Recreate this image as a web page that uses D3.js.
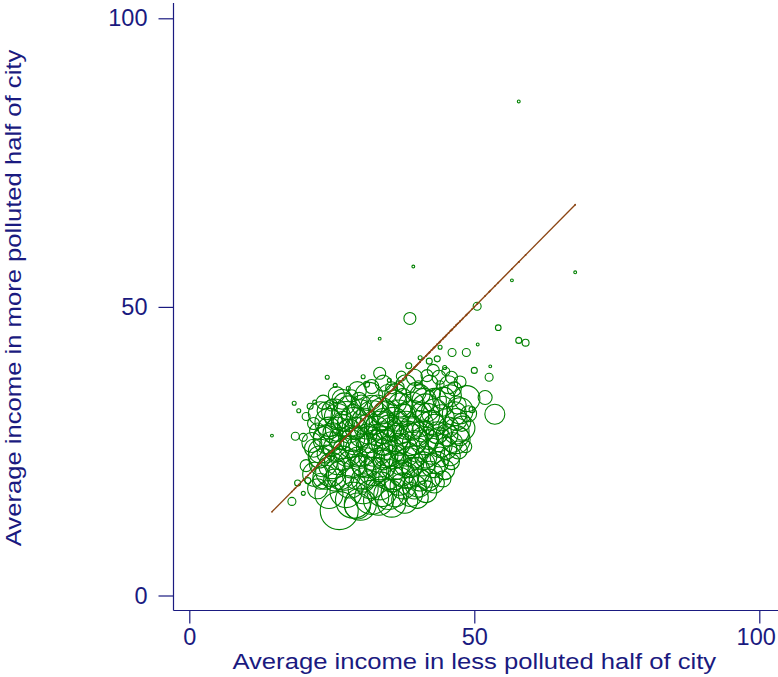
<!DOCTYPE html>
<html>
<head>
<meta charset="utf-8">
<script src="https://cdn.jsdelivr.net/npm/d3@7"></script>
<style>
  html, body { margin: 0; padding: 0; background: #fff; }
</style>
</head>
<body>
<div id="chart"></div>
<script>
let w = 778;
let h = 677;

let axisColor = "#1a1a80";
let markerColor = "#008000";
let lineColor = "#8b4513";

let xTicks = [0, 50, 100];
let yTicks = [0, 50, 100];

// cities far from the main cloud: [less polluted income, more polluted income, population]
let sparseCities = [
  [57.8, 85.6, 2], [39.3, 57.0, 2], [67.7, 56.0, 2], [56.6, 54.6, 2],
  [50.5, 50.1, 16], [38.7, 48.0, 36], [54.2, 46.4, 8], [33.4, 44.5, 2],
  [57.8, 44.2, 9], [59.0, 43.8, 12], [50.6, 43.5, 2], [52.8, 39.7, 2],
  [52.6, 37.8, 16], [51.9, 34.3, 49], [53.6, 31.4, 100], [49.6, 32.2, 9],
  [44.0, 43.0, 4], [46.1, 42.1, 16], [48.6, 42.1, 16], [43.5, 41.0, 9],
  [45.0, 38.8, 16], [47.5, 37.0, 36], [50.0, 39.0, 9], [14.5, 27.7, 2],
  [18.4, 33.3, 4], [21.2, 32.8, 9], [19.2, 32.0, 4]
];

// the main cloud of cities
let denseCities = [
  [24.2, 37.8, 4], [25.6, 36.4, 4], [27.9, 35.9, 4], [30.5, 37.9, 4], [31.1, 36.6, 9],
  [33.4, 38.5, 36], [35.1, 37.3, 4], [36.8, 36.2, 25], [41.7, 38.1, 36], [40.2, 36.5, 16],
  [44.0, 36.5, 16], [43.2, 35.0, 25], [46.0, 37.8, 36], [44.8, 39.5, 4], [38.5, 39.8, 9],
  [42.1, 40.6, 9], [40.5, 41.2, 4],
  [22.0, 33.5, 4], [25.0, 33.0, 36], [26.8, 34.0, 100], [28.0, 32.5, 144], [29.8, 33.8, 64],
  [31.5, 34.5, 196], [33.0, 33.0, 100], [34.8, 35.0, 81], [36.0, 33.5, 144], [37.5, 34.5, 64],
  [39.0, 33.0, 169], [40.5, 34.8, 100], [41.5, 32.5, 196], [43.0, 33.8, 144], [44.5, 32.8, 100],
  [45.8, 34.6, 121], [47.0, 33.0, 81], [48.7, 34.1, 169], [46.5, 35.8, 49], [42.2, 36.8, 64],
  [38.0, 36.5, 100], [35.5, 36.0, 36], [32.0, 36.2, 49], [29.5, 35.5, 81],
  [20.5, 31.0, 16], [21.8, 29.8, 36], [23.0, 31.5, 144], [24.5, 30.0, 196], [25.5, 31.8, 169],
  [26.8, 29.5, 121], [27.5, 31.0, 225], [28.8, 29.8, 256], [30.0, 31.5, 196], [31.0, 29.2, 144],
  [32.2, 30.8, 289], [33.5, 29.5, 196], [34.5, 31.5, 169], [35.8, 30.0, 225], [36.8, 31.8, 144],
  [38.0, 29.5, 196], [39.2, 31.0, 256], [40.5, 29.8, 169], [41.8, 31.2, 144], [43.0, 29.5, 121],
  [44.2, 30.8, 169], [45.5, 29.2, 100], [46.5, 31.5, 144], [47.8, 30.0, 81], [49.0, 31.5, 64],
  [22.5, 28.5, 64], [25.2, 28.2, 100], [28.0, 28.5, 144], [31.2, 28.0, 100], [34.0, 28.2, 121],
  [37.0, 28.5, 169], [40.0, 28.0, 144], [43.5, 28.2, 121], [46.8, 28.5, 169], [18.6, 27.6, 16],
  [20.0, 27.4, 16],
  [21.5, 26.5, 100], [23.0, 25.0, 144], [24.2, 27.0, 196], [25.8, 25.5, 169], [26.5, 27.2, 121],
  [27.8, 25.0, 225], [29.0, 26.8, 196], [30.2, 25.2, 256], [31.5, 27.0, 169], [32.5, 25.5, 324],
  [33.8, 26.8, 196], [35.0, 25.0, 225], [36.2, 27.2, 169], [37.5, 25.5, 196], [38.8, 27.0, 256],
  [40.0, 25.2, 144], [41.2, 26.8, 196], [42.5, 25.0, 169], [43.8, 27.0, 144], [45.0, 25.5, 121],
  [46.2, 26.5, 100], [47.5, 27.5, 81], [48.5, 25.8, 36], [29.5, 24.0, 100], [34.5, 24.2, 144],
  [39.5, 24.0, 121], [24.0, 24.5, 81], [44.0, 24.0, 100],
  [20.5, 22.5, 36], [22.0, 21.0, 144], [23.5, 23.0, 196], [24.8, 21.5, 225], [26.0, 23.2, 169],
  [27.2, 21.0, 256], [28.5, 22.8, 196], [29.8, 21.2, 289], [31.0, 23.0, 225], [32.2, 21.5, 196],
  [33.5, 22.8, 256], [34.8, 21.0, 225], [36.0, 22.5, 196], [37.2, 21.2, 169], [38.5, 23.0, 225],
  [39.8, 21.5, 196], [41.0, 22.8, 144], [42.2, 21.0, 169], [43.5, 23.0, 121], [44.8, 21.8, 100],
  [46.0, 23.2, 64], [25.5, 20.0, 121], [30.5, 20.0, 144], [35.5, 20.2, 169], [40.5, 20.0, 121],
  [19.0, 19.5, 9], [20.8, 19.9, 9], [20.0, 17.7, 4], [18.0, 16.3, 16], [22.5, 18.5, 100],
  [24.5, 17.5, 196], [26.3, 14.7, 361], [27.5, 18.0, 256], [28.8, 16.5, 324], [30.5, 18.5, 225],
  [32.0, 17.0, 289], [33.5, 19.0, 196], [35.0, 17.5, 225], [36.1, 17.8, 196], [37.5, 19.0, 169],
  [38.8, 17.5, 144], [40.2, 19.5, 196], [41.5, 18.0, 121], [43.0, 19.5, 100], [44.5, 20.2, 64],
  [29.5, 15.5, 169], [23.0, 19.8, 64],
  [30.0, 27.5, 100], [31.8, 26.0, 144], [33.0, 27.8, 121], [34.2, 26.5, 169], [35.5, 28.8, 144],
  [36.8, 26.2, 121], [38.2, 28.0, 169], [39.5, 26.5, 144], [41.0, 28.5, 121], [42.0, 27.0, 100],
  [29.2, 29.0, 121], [30.8, 30.2, 169], [32.8, 29.0, 144], [34.0, 30.5, 121], [35.0, 29.0, 169],
  [36.5, 30.2, 100], [37.8, 31.2, 121], [39.0, 29.0, 144], [40.8, 31.8, 100], [42.5, 30.0, 144],
  [30.5, 22.5, 121], [32.0, 24.0, 169], [33.2, 21.8, 144], [34.0, 23.5, 100], [35.8, 24.0, 144],
  [37.0, 22.8, 121], [38.2, 24.5, 144], [39.0, 22.2, 100], [41.5, 24.0, 121], [42.8, 22.5, 144],
  [27.0, 23.8, 144], [28.2, 25.8, 121], [26.0, 28.8, 144], [27.0, 30.2, 100], [28.5, 27.2, 169],
  [24.5, 29.0, 121], [25.0, 26.3, 144], [23.5, 27.5, 100], [22.8, 24.0, 121], [21.8, 25.5, 81],
  [44.0, 26.0, 144], [45.2, 27.8, 121], [45.8, 24.2, 100], [46.8, 30.5, 121], [47.2, 25.2, 81],
  [43.0, 31.8, 169], [44.6, 34.2, 121], [41.2, 33.8, 144], [39.8, 35.2, 100], [37.0, 33.0, 144],
  [33.8, 32.0, 169], [32.0, 32.8, 121], [30.2, 33.0, 100], [28.8, 31.0, 144], [27.2, 33.2, 121],
  [26.0, 31.0, 169], [24.0, 32.0, 81], [25.8, 34.8, 64], [23.5, 33.5, 49], [28.5, 34.6, 36],
  [31.8, 19.2, 196], [33.8, 18.0, 225], [36.8, 19.8, 196], [38.0, 20.8, 169], [39.5, 18.8, 144],
  [42.0, 20.0, 121], [28.2, 19.5, 225], [26.5, 20.8, 196], [25.0, 22.5, 169], [23.8, 20.5, 144],
  [47.5, 32.0, 169], [48.0, 29.0, 144], [46.8, 27.0, 196], [45.5, 36.5, 81], [43.8, 37.8, 49],
  [42.8, 39.0, 36], [39.5, 37.8, 64], [37.2, 38.0, 25], [34.0, 36.8, 64], [36.2, 34.8, 121],
  [33.2, 16.5, 225], [30.0, 15.8, 256], [35.5, 16.0, 196], [37.8, 16.5, 169], [40.0, 17.0, 121]
];

let cities = sparseCities.concat(denseCities);

let svg = d3.select("#chart")
  .append("svg")
    .attr("width", w)
    .attr("height", h)
    .style("font-family", "Liberation Sans, Arial, sans-serif");

let xScale = d3.scaleLinear().domain([0, 100]).range([189.3, 759.3]);
let yScale = d3.scaleLinear().domain([0, 100]).range([595.5, 18.3]);
let rScale = d3.scaleSqrt().domain([0, 400]).range([0, 20]);

// circles, weighted by population
svg.append("g")
  .selectAll("circle")
  .data(cities)
  .enter()
  .append("circle")
    .attr("cx", d => xScale(d[0]))
    .attr("cy", d => yScale(d[1]))
    .attr("r", d => Math.max(1.3, rScale(d[2])))
    .attr("fill", "none")
    .attr("stroke", markerColor)
    .attr("stroke-width", 1.1);

// 45 degree line over the range of the data
let xExtent = d3.extent(cities, d => d[0]);
svg.append("path")
  .datum(xExtent)
  .attr("d", d3.line().x(d => xScale(d)).y(d => yScale(d)))
  .attr("stroke", lineColor)
  .attr("stroke-width", 1.3)
  .attr("fill", "none");

svg.append("g")
  .selectAll("circle")
  .data(cities)
  .enter()
  .append("circle")
    .attr("cx", d => xScale(d[0]))
    .attr("cy", d => yScale(d[0]))
    .attr("r", 0.9)
    .attr("fill", lineColor);

// axes
let yAxisGroup = svg.append("g")
  .attr("transform", "translate(173.5, 0)")
  .call(d3.axisLeft(yScale).tickValues(yTicks).tickSize(15).tickPadding(11).tickSizeOuter(0));

let xAxisGroup = svg.append("g")
  .attr("transform", "translate(0, 610.5)")
  .call(d3.axisBottom(xScale).tickValues(xTicks).tickSize(13).tickPadding(5).tickSizeOuter(0));

svg.selectAll(".domain").remove();
svg.selectAll(".tick line").attr("stroke", axisColor).attr("stroke-width", 1.2);
svg.selectAll(".tick text")
  .attr("fill", axisColor)
  .attr("font-size", "23.5px")
  .attr("font-family", "Liberation Sans, Arial, sans-serif");

// last x label sits against the right edge
xAxisGroup.selectAll(".tick text")
  .filter(d => d === xTicks[xTicks.length - 1])
  .attr("text-anchor", "end")
  .attr("x", 16);

svg.append("line")
  .attr("x1", 173.5).attr("x2", 173.5)
  .attr("y1", 3).attr("y2", 610.5)
  .attr("stroke", axisColor).attr("stroke-width", 1.2);

svg.append("line")
  .attr("x1", 173.5).attr("x2", w)
  .attr("y1", 610.5).attr("y2", 610.5)
  .attr("stroke", axisColor).attr("stroke-width", 1.2);

// titles (the original font is a little wider than Arial)
svg.append("text")
  .text("Average income in less polluted half of city")
  .attr("transform", "translate(" + xScale(50) + ", 669) scale(1.165, 1)")
  .attr("text-anchor", "middle")
  .attr("fill", axisColor)
  .attr("font-size", "22px");

svg.append("text")
  .text("Average income in more polluted half of city")
  .attr("transform", "translate(21, 298) rotate(-90) scale(1.165, 1)")
  .attr("text-anchor", "middle")
  .attr("fill", axisColor)
  .attr("font-size", "22px");
</script>
</body>
</html>
